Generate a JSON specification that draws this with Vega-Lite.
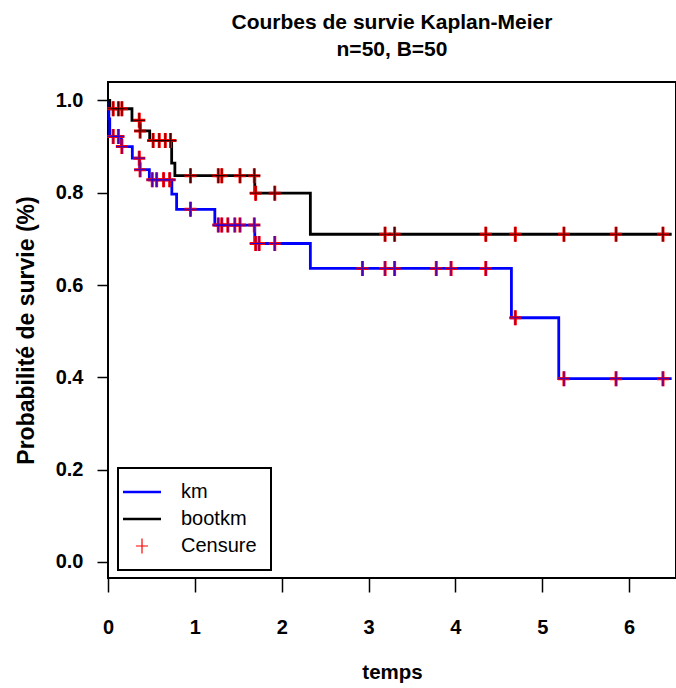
{
  "$schema": "https://vega.github.io/schema/vega-lite/v6.json",
  "width": 568,
  "height": 496,
  "autosize": "none",
  "padding": {"left": 108, "top": 82, "right": 0, "bottom": 110},
  "background": "white",
  "config": {
    "font": "Liberation Sans",
    "view": {"stroke": "black", "strokeWidth": 2},
    "axis": {"grid": false, "domain": false, "tickColor": "black", "tickWidth": 1.5, "labelColor": "black", "titleColor": "black", "labelFont": "Liberation Sans", "titleFont": "Liberation Sans", "labelFontSize": 20, "labelFontWeight": "bold", "titleFontWeight": "bold"}
  },
  "title": {
    "text": ["Courbes de survie Kaplan-Meier", "n=50, B=50"],
    "font": "Liberation Sans",
    "fontSize": 21,
    "fontWeight": "bold",
    "color": "black",
    "lineHeight": 27,
    "anchor": "middle",
    "offset": 22
  },
  "datasets": {
    "courbes": [
      {"serie": "km", "temps": 0, "survie": 1.0},
      {"serie": "km", "temps": 0.01, "survie": 0.96},
      {"serie": "km", "temps": 0.02, "survie": 0.922},
      {"serie": "km", "temps": 0.155, "survie": 0.9},
      {"serie": "km", "temps": 0.28, "survie": 0.875},
      {"serie": "km", "temps": 0.365, "survie": 0.85},
      {"serie": "km", "temps": 0.476, "survie": 0.828},
      {"serie": "km", "temps": 0.735, "survie": 0.797},
      {"serie": "km", "temps": 0.79, "survie": 0.764},
      {"serie": "km", "temps": 1.23, "survie": 0.73},
      {"serie": "km", "temps": 1.69, "survie": 0.69},
      {"serie": "km", "temps": 2.33, "survie": 0.636},
      {"serie": "km", "temps": 4.645, "survie": 0.529},
      {"serie": "km", "temps": 5.19, "survie": 0.397},
      {"serie": "km", "temps": 6.49, "survie": 0.397},
      {"serie": "bootkm", "temps": 0, "survie": 1.0},
      {"serie": "bootkm", "temps": 0.02, "survie": 0.982},
      {"serie": "bootkm", "temps": 0.276, "survie": 0.957},
      {"serie": "bootkm", "temps": 0.37, "survie": 0.934},
      {"serie": "bootkm", "temps": 0.48, "survie": 0.913},
      {"serie": "bootkm", "temps": 0.733, "survie": 0.864},
      {"serie": "bootkm", "temps": 0.77, "survie": 0.837},
      {"serie": "bootkm", "temps": 1.69, "survie": 0.799},
      {"serie": "bootkm", "temps": 2.33, "survie": 0.71},
      {"serie": "bootkm", "temps": 6.49, "survie": 0.71}
    ],
    "censures": [
      {"serie": "Censure", "courbe": "km", "temps": 0.06, "survie": 0.922},
      {"serie": "Censure", "courbe": "km", "temps": 0.12, "survie": 0.922},
      {"serie": "Censure", "courbe": "km", "temps": 0.16, "survie": 0.9},
      {"serie": "Censure", "courbe": "km", "temps": 0.36, "survie": 0.875},
      {"serie": "Censure", "courbe": "km", "temps": 0.37, "survie": 0.85},
      {"serie": "Censure", "courbe": "km", "temps": 0.51, "survie": 0.828},
      {"serie": "Censure", "courbe": "km", "temps": 0.56, "survie": 0.828},
      {"serie": "Censure", "courbe": "km", "temps": 0.64, "survie": 0.828},
      {"serie": "Censure", "courbe": "km", "temps": 0.71, "survie": 0.828},
      {"serie": "Censure", "courbe": "km", "temps": 0.95, "survie": 0.764},
      {"serie": "Censure", "courbe": "km", "temps": 1.27, "survie": 0.73},
      {"serie": "Censure", "courbe": "km", "temps": 1.31, "survie": 0.73},
      {"serie": "Censure", "courbe": "km", "temps": 1.38, "survie": 0.73},
      {"serie": "Censure", "courbe": "km", "temps": 1.46, "survie": 0.73},
      {"serie": "Censure", "courbe": "km", "temps": 1.52, "survie": 0.73},
      {"serie": "Censure", "courbe": "km", "temps": 1.685, "survie": 0.73},
      {"serie": "Censure", "courbe": "km", "temps": 1.7, "survie": 0.69},
      {"serie": "Censure", "courbe": "km", "temps": 1.74, "survie": 0.69},
      {"serie": "Censure", "courbe": "km", "temps": 1.92, "survie": 0.69},
      {"serie": "Censure", "courbe": "km", "temps": 2.93, "survie": 0.636},
      {"serie": "Censure", "courbe": "km", "temps": 3.19, "survie": 0.636},
      {"serie": "Censure", "courbe": "km", "temps": 3.3, "survie": 0.636},
      {"serie": "Censure", "courbe": "km", "temps": 3.78, "survie": 0.636},
      {"serie": "Censure", "courbe": "km", "temps": 3.95, "survie": 0.636},
      {"serie": "Censure", "courbe": "km", "temps": 4.35, "survie": 0.636},
      {"serie": "Censure", "courbe": "km", "temps": 4.69, "survie": 0.529},
      {"serie": "Censure", "courbe": "km", "temps": 5.25, "survie": 0.397},
      {"serie": "Censure", "courbe": "km", "temps": 5.85, "survie": 0.397},
      {"serie": "Censure", "courbe": "km", "temps": 6.39, "survie": 0.397},
      {"serie": "Censure", "courbe": "bootkm", "temps": 0.06, "survie": 0.982},
      {"serie": "Censure", "courbe": "bootkm", "temps": 0.12, "survie": 0.982},
      {"serie": "Censure", "courbe": "bootkm", "temps": 0.16, "survie": 0.982},
      {"serie": "Censure", "courbe": "bootkm", "temps": 0.36, "survie": 0.957},
      {"serie": "Censure", "courbe": "bootkm", "temps": 0.37, "survie": 0.934},
      {"serie": "Censure", "courbe": "bootkm", "temps": 0.52, "survie": 0.913},
      {"serie": "Censure", "courbe": "bootkm", "temps": 0.59, "survie": 0.913},
      {"serie": "Censure", "courbe": "bootkm", "temps": 0.66, "survie": 0.913},
      {"serie": "Censure", "courbe": "bootkm", "temps": 0.72, "survie": 0.913},
      {"serie": "Censure", "courbe": "bootkm", "temps": 0.95, "survie": 0.837},
      {"serie": "Censure", "courbe": "bootkm", "temps": 1.27, "survie": 0.837},
      {"serie": "Censure", "courbe": "bootkm", "temps": 1.31, "survie": 0.837},
      {"serie": "Censure", "courbe": "bootkm", "temps": 1.52, "survie": 0.837},
      {"serie": "Censure", "courbe": "bootkm", "temps": 1.685, "survie": 0.837},
      {"serie": "Censure", "courbe": "bootkm", "temps": 1.7, "survie": 0.799},
      {"serie": "Censure", "courbe": "bootkm", "temps": 1.92, "survie": 0.799},
      {"serie": "Censure", "courbe": "bootkm", "temps": 3.19, "survie": 0.71},
      {"serie": "Censure", "courbe": "bootkm", "temps": 3.3, "survie": 0.71},
      {"serie": "Censure", "courbe": "bootkm", "temps": 4.35, "survie": 0.71},
      {"serie": "Censure", "courbe": "bootkm", "temps": 4.69, "survie": 0.71},
      {"serie": "Censure", "courbe": "bootkm", "temps": 5.25, "survie": 0.71},
      {"serie": "Censure", "courbe": "bootkm", "temps": 5.85, "survie": 0.71},
      {"serie": "Censure", "courbe": "bootkm", "temps": 6.39, "survie": 0.71}
    ]
  },
  "layer": [
    {
      "data": {"name": "courbes"},
      "mark": {"type": "line", "interpolate": "step-after", "strokeWidth": 2.8},
      "encoding": {
        "x": {
          "field": "temps", "type": "quantitative",
          "scale": {"domain": [0, 6.54], "nice": false, "zero": false},
          "axis": {"values": [0, 1, 2, 3, 4, 5, 6], "format": "d", "title": "temps", "titleFontSize": 20.5, "tickSize": 14, "labelPadding": 25, "labelFlush": false, "titlePadding": 25}
        },
        "y": {
          "field": "survie", "type": "quantitative",
          "scale": {"domain": [-0.035, 1.04], "nice": false, "zero": false},
          "axis": {"values": [0, 0.2, 0.4, 0.6, 0.8, 1.0], "format": ".1f", "title": "Probabilité de survie (%)", "titleFontSize": 23, "tickSize": 11, "labelPadding": 14, "titlePadding": 17}
        },
        "stroke": {
          "field": "serie", "type": "nominal",
          "scale": {"domain": ["km", "bootkm", "Censure"], "range": ["#0000ff", "#000000", "#ff0000"]},
          "legend": {"title": null, "orient": "none", "legendX": 10, "legendY": 386, "padding": 14, "strokeColor": "black", "fillColor": "white", "labelFont": "Liberation Sans", "labelFontSize": 20, "labelColor": "black", "symbolSize": 400, "labelOffset": 29, "rowPadding": 7, "symbolStrokeWidth": 2.5,
            "encode": {"legend": {"update": {"strokeWidth": {"value": 2}}}, "symbols": {"update": {"strokeWidth": {"signal": "datum.value === 'Censure' ? 1.2 : 2.5"}}}}}
        },
        "order": {"field": "temps", "type": "quantitative"}
      }
    },
    {
      "data": {"name": "censures"},
      "mark": {"type": "point", "filled": false, "strokeWidth": 3, "size": 400, "opacity": 1},
      "encoding": {
        "x": {"field": "temps", "type": "quantitative"},
        "y": {"field": "survie", "type": "quantitative"},
        "stroke": {
          "field": "serie", "type": "nominal",
          "scale": {"domain": ["km", "bootkm", "Censure"], "range": ["#0000ff", "#000000", "#ff0000"]},
          "legend": {"title": null, "orient": "none", "legendX": 10, "legendY": 386, "padding": 14, "strokeColor": "black", "fillColor": "white", "labelFont": "Liberation Sans", "labelFontSize": 20, "labelColor": "black", "symbolSize": 400, "labelOffset": 29, "rowPadding": 7, "symbolStrokeWidth": 2.5,
            "encode": {"legend": {"update": {"strokeWidth": {"value": 2}}}, "symbols": {"update": {"strokeWidth": {"signal": "datum.value === 'Censure' ? 1.2 : 2.5"}}}}}
        },
        "shape": {
          "field": "serie", "type": "nominal",
          "scale": {"domain": ["km", "bootkm", "Censure"], "range": ["M-1.9,0L1.9,0", "M-1.9,0L1.9,0", "M-0.6,0L0.6,0M0,-0.75L0,0.75"]},
          "legend": {"title": null, "orient": "none", "legendX": 10, "legendY": 386, "padding": 14, "strokeColor": "black", "fillColor": "white", "labelFont": "Liberation Sans", "labelFontSize": 20, "labelColor": "black", "symbolSize": 400, "labelOffset": 29, "rowPadding": 7, "symbolStrokeWidth": 2.5,
            "encode": {"legend": {"update": {"strokeWidth": {"value": 2}}}, "symbols": {"update": {"strokeWidth": {"signal": "datum.value === 'Censure' ? 1.2 : 2.5"}}}}}
        }
      }
    },
    {
      "data": {"name": "censures"},
      "mark": {"type": "point", "filled": false, "strokeWidth": 1.2, "size": 400, "shape": "M-0.6,0L0.6,0M0,-0.75L0,0.75", "opacity": 0.7},
      "encoding": {
        "x": {"field": "temps", "type": "quantitative"},
        "y": {"field": "survie", "type": "quantitative"},
        "stroke": {"condition": {"test": "datum.courbe === 'km'", "value": "#0000ff"}, "value": "#000000"}
      }
    }
  ]
}
